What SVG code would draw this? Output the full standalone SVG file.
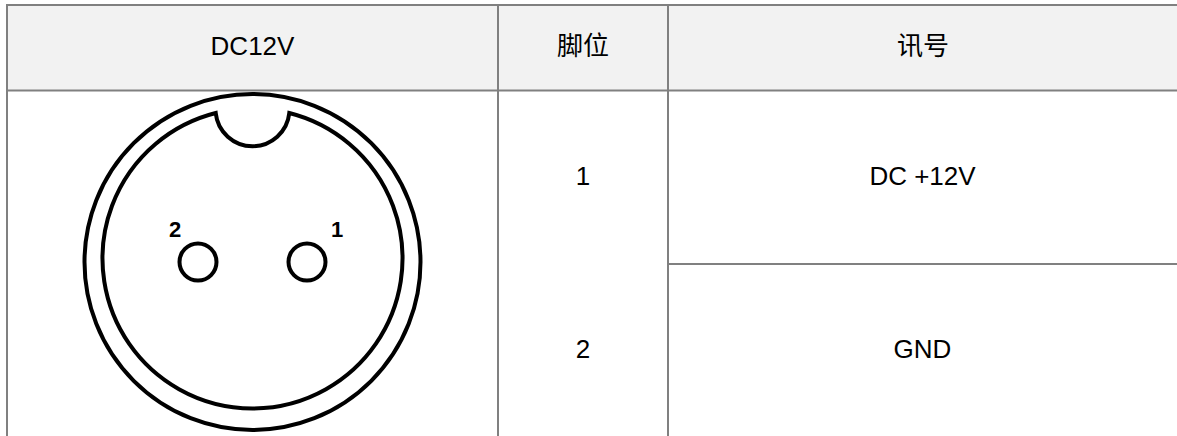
<svg xmlns="http://www.w3.org/2000/svg" width="1177" height="436" viewBox="0 0 1177 436">
<style>
.g{stroke:#808080;stroke-width:2;fill:none}
.k{stroke:#000;stroke-width:4;fill:none}
.t{font-family:"Liberation Sans","Noto Sans CJK SC",sans-serif;font-size:26px;fill:#000;text-anchor:middle}
.b{font-family:"Liberation Sans",sans-serif;font-size:22px;font-weight:bold;fill:#000;text-anchor:middle}
</style>
<rect width="1177" height="436" fill="#fff"/>
<rect x="7" y="5" width="1170" height="85" fill="#f2f2f2"/>
<g id="grid">
<path class="g" d="M6 5H1177M6 90.500H1177M668 264H1177M7 4V436M498 4V436M668 4V436"/>
</g>
<g id="header">
<text class="t" x="252.500" y="55">DC12V</text>
<text class="t" x="583" y="55">脚位</text>
<text class="t" x="923" y="55">讯号</text>
</g>
<g id="row1">
<text class="t" x="583" y="185">1</text>
<text class="t" x="922.500" y="185">DC +12V</text>
</g>
<g id="row2">
<text class="t" x="583" y="358">2</text>
<text class="t" x="922.500" y="358">GND</text>
</g>
<g id="connector">
<circle class="k" cx="252.500" cy="262" r="168"/>
<path class="k" d="M215.700 113A150 150 0 1 0 289.300 113A37 37 0 0 1 215.700 113Z"/>
<circle class="k" cx="198" cy="262" r="18.500"/>
<circle class="k" cx="307" cy="262" r="18.500"/>
<text class="b" x="175" y="236.500">2</text>
<text class="b" x="337" y="236.500">1</text>
</g>
</svg>
